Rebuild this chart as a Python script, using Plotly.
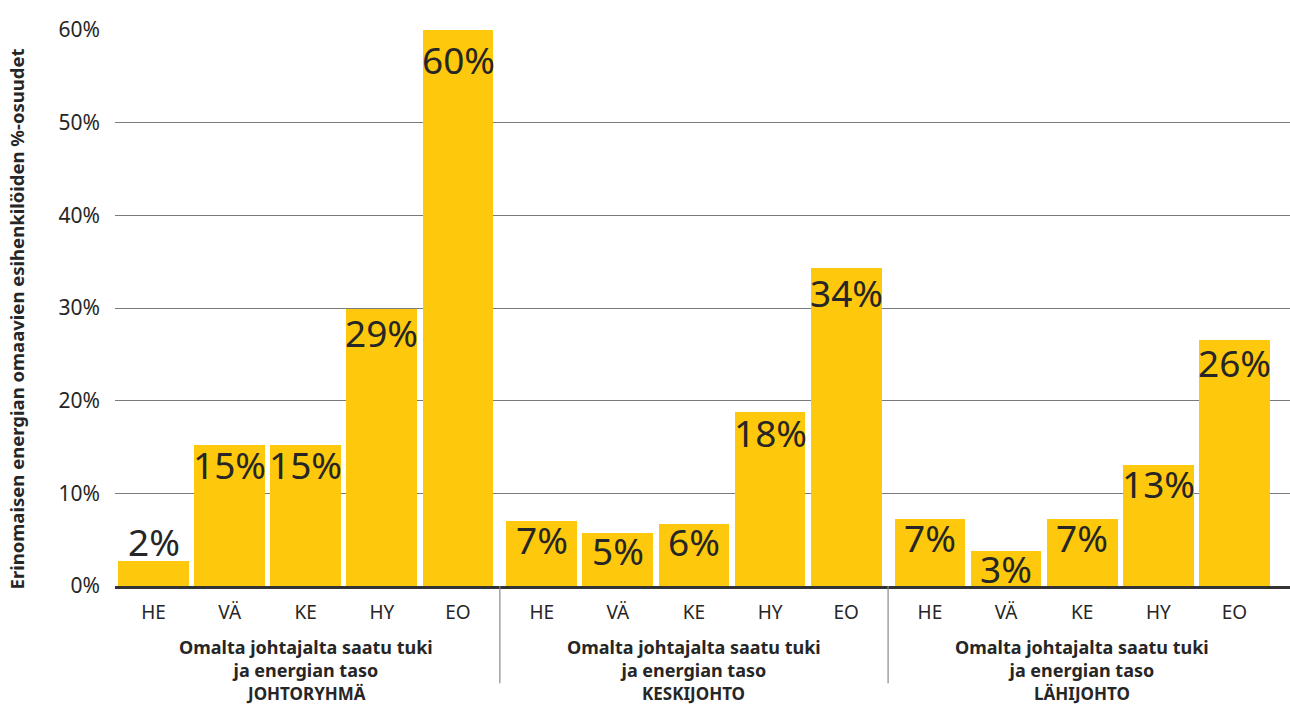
import plotly.graph_objects as go

groups = ["JOHTORYHMÄ", "KESKIJOHTO", "LÄHIJOHTO"]
levels = ["HE", "VÄ", "KE", "HY", "EO"]
values = [
    [2.7, 15.2, 15.2, 29.9, 60.0],
    [7.0, 5.7, 6.7, 18.8, 34.3],
    [7.2, 3.8, 7.2, 13.1, 26.5],
]
labels = [
    ["2%", "15%", "15%", "29%", "60%"],
    ["7%", "5%", "6%", "18%", "34%"],
    ["7%", "3%", "7%", "13%", "26%"],
]
group_caption = "Omalta johtajalta saatu tuki<br>ja energian taso"
y_title = "Erinomaisen energian omaavien esihenkilöiden %-osuudet"
y_ticks = [0, 10, 20, 30, 40, 50, 60]

BAR = "#FEC90D"
TXT = "#262626"
FONT = "Noto Sans"
GSTEP = 5.1

xs, ys, ts, tick_text = [], [], [], []
for g in range(len(groups)):
    for i, lv in enumerate(levels):
        xs.append(g * GSTEP + i)
        ys.append(values[g][i])
        ts.append(labels[g][i])
        tick_text.append(lv)

fig = go.Figure(go.Bar(
    x=xs, y=ys,
    marker=dict(color=BAR, line=dict(width=0)),
    width=0.93,
    hoverinfo="skip",
))

shapes = []
annotations = []
for x, y, t in zip(xs, ys, ts):
    if y < 3:
        annotations.append(dict(xref="x", yref="y", x=x, y=y, yanchor="bottom",
                                yshift=-8, text=t, showarrow=False,
                                font=dict(family=FONT, size=37, color=TXT)))
    else:
        gap = 5 + 0.22 * y
        annotations.append(dict(xref="x", yref="y", x=x, y=y, yanchor="top",
                                yshift=16 - gap, text=t, showarrow=False,
                                font=dict(family=FONT, size=37, color=TXT)))

for g in range(len(groups)):
    if g > 0:
        xsep = g * GSTEP - (GSTEP - 4) / 2
        shapes.append(dict(type="line", xref="x", yref="paper", x0=xsep, x1=xsep,
                           y0=0, y1=-0.175, line=dict(color="#8a8a8a", width=1.2)))
    xc = g * GSTEP + 2
    annotations.append(dict(xref="x", yref="paper", x=xc, y=-0.1295, yanchor="middle",
                            text="<b>" + group_caption + "</b>", showarrow=False,
                            font=dict(family=FONT, size=18, color=TXT)))
    annotations.append(dict(xref="x", yref="paper", x=xc, y=-0.194, yanchor="middle",
                            text="<b>" + groups[g] + "</b>", showarrow=False,
                            font=dict(family=FONT, size=17, color=TXT)))

annotations.append(dict(xref="paper", yref="paper", x=-0.084, y=0.48, textangle=-90,
                        xanchor="center", yanchor="middle", showarrow=False,
                        text="<b>" + y_title + "</b>",
                        font=dict(family=FONT, size=18.5, color=TXT)))

fig.update_layout(
    width=1290, height=704,
    margin=dict(l=115, r=0, t=30, b=118),
    paper_bgcolor="white", plot_bgcolor="white",
    showlegend=False, bargap=0,
    shapes=shapes, annotations=annotations,
    font=dict(family=FONT, color=TXT),
)
fig.update_xaxes(
    range=[-0.506, 2 * GSTEP + 4 + 0.73],
    tickmode="array", tickvals=xs, ticktext=tick_text,
    tickfont=dict(family=FONT, size=19, color=TXT),
    showgrid=False, zeroline=False,
    showline=True, linecolor="#333333", linewidth=2.5,
    ticks="", ticklabelstandoff=7,
)
fig.update_yaxes(
    range=[0, 60], tickmode="array", tickvals=y_ticks,
    ticktext=[f"{v}%" for v in y_ticks],
    tickfont=dict(family=FONT, size=21, color=TXT),
    showgrid=True, gridcolor="#7a7a7a", gridwidth=1.2,
    zeroline=False, showline=False, ticks="", ticklabelstandoff=14,
)

fig.write_html("out.html")
